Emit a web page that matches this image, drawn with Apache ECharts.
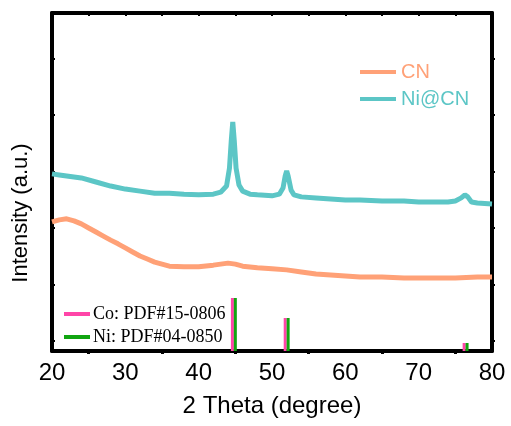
<!DOCTYPE html>
<html>
<head>
<meta charset="utf-8">
<script src="https://cdn.jsdelivr.net/npm/echarts@6.0.0/dist/echarts.min.js"></script>
<style>
  html, body { margin: 0; padding: 0; background: #fff; }
  #chart { width: 511px; height: 426px; }
</style>
</head>
<body>
<div id="chart"></div>
<script>
// 2 Theta (degree) vs intensity
const CN_X = [20, 21, 22, 23, 24, 25, 26, 27, 28, 29, 30, 31, 32, 33, 34, 35, 36, 38, 40, 42, 44, 45, 46, 48, 50, 52, 54, 56, 58, 60, 62, 65, 68, 70, 72, 75, 78, 80];
const CN_Y = [38.2, 38.8, 39.1, 38.5, 37.6, 36.4, 35.2, 34.0, 32.8, 31.7, 30.5, 29.3, 28.1, 27.2, 26.3, 25.7, 25.1, 24.9, 24.9, 25.4, 26.0, 25.7, 25.1, 24.6, 24.3, 24.0, 23.4, 22.8, 22.5, 22.2, 21.9, 21.9, 21.6, 21.6, 21.6, 21.6, 21.9, 21.9];

const NICN_X = [20, 21, 22, 24, 26, 28, 30, 32, 34, 36, 38, 40, 42, 43, 43.8, 44.2, 44.45, 44.65, 44.85, 45.1, 45.5, 46, 47, 48, 50, 51, 51.5, 51.8, 52.0, 52.2, 52.6, 53, 54, 56, 58, 60, 62, 65, 68, 70, 72, 74, 75, 75.8, 76.3, 76.7, 77.2, 78, 80];
const NICN_Y = [52.4, 52.1, 51.8, 51.2, 50.0, 48.8, 47.9, 47.3, 46.7, 46.7, 46.4, 46.2, 46.4, 47.0, 48.8, 54.1, 62.4, 67.8, 62.4, 54.1, 49.1, 47.3, 46.4, 46.2, 45.9, 46.4, 48.2, 51.8, 53.3, 51.8, 47.6, 46.2, 45.6, 45.3, 45.0, 44.7, 44.7, 44.4, 44.4, 44.1, 44.1, 44.1, 44.4, 45.3, 46.2, 45.6, 44.1, 43.8, 43.5];

// reference patterns (stick positions and heights)
const CO_POS = [44.6, 51.8, 76.2];
const CO_H = [15.7, 9.8, 2.4];
const NI_POS = [45.0, 52.2, 76.6];
const NI_H = [15.7, 9.8, 2.4];

const Y_TICKS = [3, 19.7, 36.4, 53.1, 69.8, 86.5];

const COLORS = { cn: '#FFA177', nicn: '#5CC6C6', co: '#FF45A8', ni: '#11A511' };

function pairs(xs, ys) {
    return xs.map((x, i) => [x, ys[i]]);
}

function sticks(pos, h) {
    const out = [];
    pos.forEach((x, i) => {
        out.push([x, 0], [x, h[i]], '-');
    });
    return out;
}

const chart = echarts.init(document.getElementById('chart'));

const axisLine = { show: true, onZero: false, lineStyle: { color: '#000', width: 4 } };

chart.setOption({
    animation: false,
    grid: { left: 52, right: 19, top: 13, bottom: 75 },
    legend: [
        {
            left: 355, top: 57, orient: 'vertical', itemGap: 7,
            icon: 'rect', itemWidth: 36, itemHeight: 4,
            textStyle: { fontFamily: 'Liberation Sans', fontSize: 20 },
            data: [
                { name: 'CN', textStyle: { color: COLORS.cn } },
                { name: 'Ni@CN', textStyle: { color: COLORS.nicn } }
            ]
        },
        {
            left: 59, top: 300, orient: 'vertical', itemGap: 5,
            icon: 'rect', itemWidth: 26, itemHeight: 4,
            textStyle: { fontFamily: 'Liberation Serif', fontSize: 18, color: '#000', padding: [0, 0, 0, -2] },
            data: ['Co: PDF#15-0806', 'Ni: PDF#04-0850']
        }
    ],
    xAxis: [
        {
            type: 'value', min: 20, max: 80, interval: 10,
            name: '2 Theta (degree)', nameLocation: 'middle', nameGap: 43,
            nameTextStyle: { fontFamily: 'Liberation Sans', fontSize: 24, color: '#000' },
            axisLine: axisLine,
            axisTick: { show: false },
            minorTick: { show: true, splitNumber: 2, length: 3, lineStyle: { color: '#000', width: 3 } },
            axisLabel: { fontFamily: 'Liberation Sans', fontSize: 24, color: '#000', margin: 10 },
            splitLine: { show: false }
        },
        {
            type: 'value', position: 'top', min: 20, max: 80, interval: 5,
            axisLine: axisLine,
            axisTick: { inside: true, length: 3, lineStyle: { color: '#000', width: 2 } },
            axisLabel: { show: false },
            splitLine: { show: false }
        }
    ],
    yAxis: [
        {
            type: 'value', min: 0, max: 100,
            name: 'Intensity (a.u.)', nameLocation: 'middle', nameGap: 20,
            nameTextStyle: { fontFamily: 'Liberation Sans', fontSize: 22, color: '#000', padding: [0, 62, 0, 0] },
            axisLine: axisLine,
            axisTick: { inside: true, length: 3, customValues: Y_TICKS, lineStyle: { color: '#000', width: 2 } },
            axisLabel: { show: false },
            splitLine: { show: false }
        },
        {
            type: 'value', position: 'right', min: 0, max: 100,
            axisLine: axisLine,
            axisTick: { length: 3, customValues: Y_TICKS, lineStyle: { color: '#000', width: 2 } },
            axisLabel: { show: false },
            splitLine: { show: false }
        }
    ],
    series: [
        {
            name: 'CN', type: 'line', symbol: 'none', color: COLORS.cn,
            lineStyle: { width: 5 },
            data: pairs(CN_X, CN_Y)
        },
        {
            name: 'Ni@CN', type: 'line', symbol: 'none', color: COLORS.nicn,
            lineStyle: { width: 5 },
            data: pairs(NICN_X, NICN_Y)
        },
        {
            name: 'Co: PDF#15-0806', type: 'line', symbol: 'none', color: COLORS.co,
            lineStyle: { width: 3 }, connectNulls: false,
            data: sticks(CO_POS, CO_H)
        },
        {
            name: 'Ni: PDF#04-0850', type: 'line', symbol: 'none', color: COLORS.ni,
            lineStyle: { width: 3 }, connectNulls: false,
            data: sticks(NI_POS, NI_H)
        }
    ]
});
</script>
</body>
</html>
